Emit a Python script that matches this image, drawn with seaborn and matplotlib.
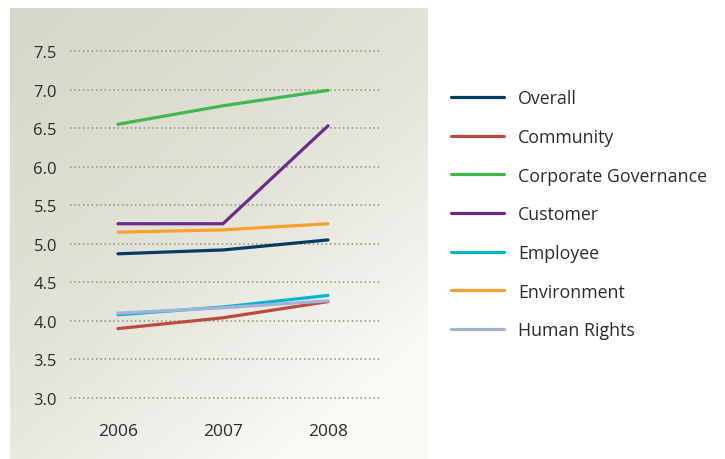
import numpy as np
import pandas as pd
import matplotlib
matplotlib.use("Agg")
import matplotlib.pyplot as plt
from matplotlib.colors import LinearSegmentedColormap
import seaborn as sns

years = [2006, 2007, 2008]
overall = [4.87, 4.92, 5.05]
community = [3.90, 4.04, 4.25]
corporate_governance = [6.55, 6.79, 6.99]
customer = [5.26, 5.26, 6.53]
employee = [4.08, 4.18, 4.33]
environment = [5.15, 5.18, 5.26]
human_rights = [4.10, 4.17, 4.26]
y_ticks = [3.0, 3.5, 4.0, 4.5, 5.0, 5.5, 6.0, 6.5, 7.0, 7.5]

series = {
    "Overall": overall,
    "Community": community,
    "Corporate Governance": corporate_governance,
    "Customer": customer,
    "Employee": employee,
    "Environment": environment,
    "Human Rights": human_rights,
}
palette = {
    "Overall": "#033d64",
    "Community": "#bb4a3f",
    "Corporate Governance": "#3dba4b",
    "Customer": "#6b2a8c",
    "Employee": "#00b5d2",
    "Environment": "#f7a12c",
    "Human Rights": "#a3b3d3",
}

df = pd.DataFrame(
    [(name, yr, v) for name, vals in series.items() for yr, v in zip(years, vals)],
    columns=["series", "year", "score"],
)

sns.set_theme(style="white")
plt.rcParams["font.family"] = ["Open Sans", "DejaVu Sans"]

W, H = 725, 460
fig = plt.figure(figsize=(W / 100, H / 100), dpi=100)
fig.patch.set_facecolor("white")

# gradient panel behind the plot
bg = fig.add_axes([10 / W, 0, 418 / W, (H - 9) / H])
bg.set_axis_off()
gx, gy = np.meshgrid(np.linspace(0, 1, 300), np.linspace(0, 1, 300))
grad = np.clip((gx * 0.55 + gy * 0.75) / 1.1, 0, 1) ** 1.3
cmap = LinearSegmentedColormap.from_list("panel", ["#d6d8cb", "#e3e5da", "#f9f9f6"])
bg.imshow(grad, cmap=cmap, aspect="auto", extent=[0, 1, 0, 1], origin="upper")
bg.set_xlim(0, 1)
bg.set_ylim(0, 1)

# main axes: y 2.9..7.6, x 2006-0.457 .. 2008+0.514
ppu = (399 - 52) / 4.5
ylo, yhi = 2.9, 7.6
top_px = 52 - (yhi - 7.5) * ppu
bot_px = 399 + (3.0 - ylo) * ppu
ax = fig.add_axes([70 / W, 1 - bot_px / H, 312 / W, (bot_px - top_px) / H])
ax.set_facecolor("none")

for t in y_ticks:
    ax.axhline(t, color="#989c7d", lw=1.3, ls=(0, (0.8, 1.6)), zorder=1)

sns.lineplot(data=df, x="year", y="score", hue="series", palette=palette,
             hue_order=list(series.keys()), linewidth=2.3, ax=ax, legend=True,
             zorder=3)

ax.set_xlim(2006 - 0.457, 2008 + 0.514)
ax.set_ylim(ylo, yhi)
ax.set_xticks(years)
ax.set_xticklabels([str(y) for y in years])
ax.set_yticks(y_ticks)
ax.set_yticklabels([f"{t:.1f}" for t in y_ticks])
ax.set_xlabel("")
ax.set_ylabel("")
for s in ax.spines.values():
    s.set_visible(False)
ax.tick_params(axis="y", length=0, pad=9.4, labelsize=12, labelcolor="#2b2b2b")
ax.tick_params(axis="x", length=0, pad=12.5, labelsize=12.5, labelcolor="#2b2b2b")

handles, labels = ax.get_legend_handles_labels()
ax.legend_.remove()
for h in handles:
    h.set_linewidth(2.3)
fig.legend(handles, labels, loc="upper left", bbox_to_anchor=(444 / W, 1 - 83 / H),
           frameon=False, fontsize=12.8, handlelength=2.95, handletextpad=0.8,
           labelspacing=1.165, borderaxespad=0, borderpad=0.4,
           labelcolor="#2b2b2b")

fig.savefig("out.png", dpi=100)
